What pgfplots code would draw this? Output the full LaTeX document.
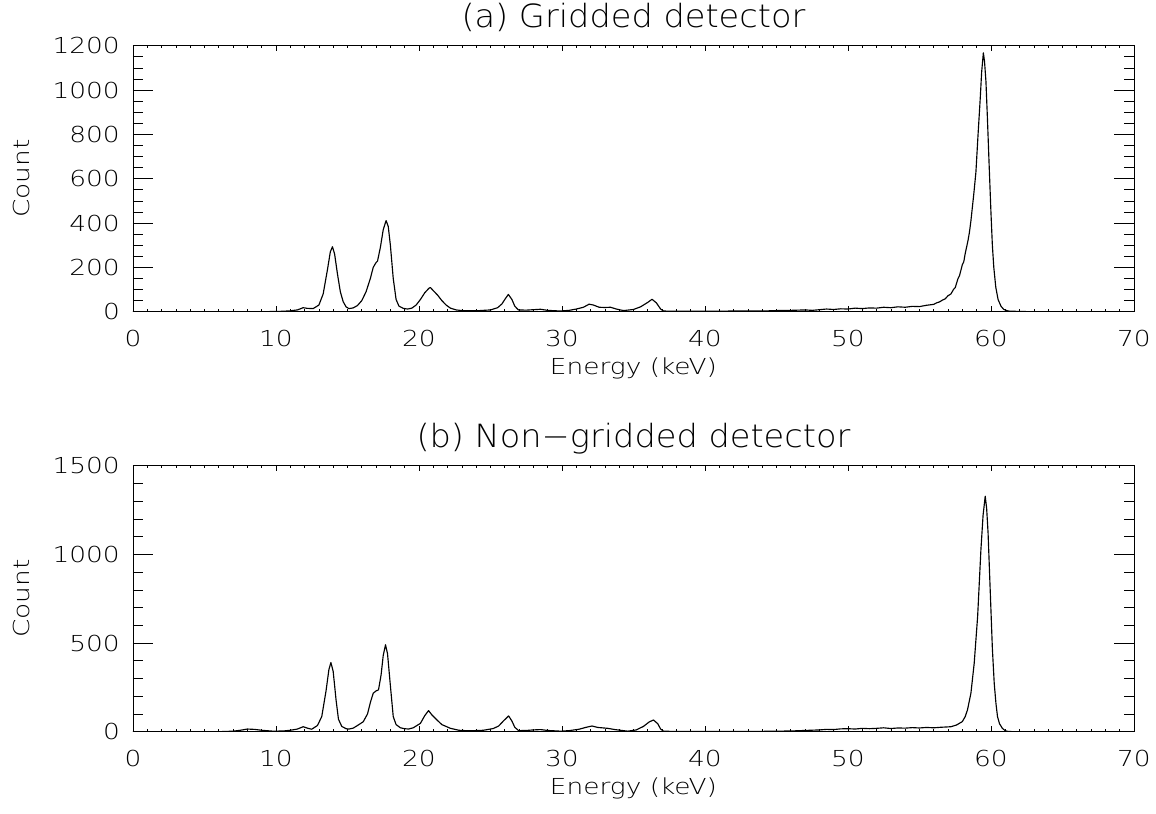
\documentclass[border=0pt]{standalone}
\usepackage{fontspec}
\setmainfont{DejaVu Sans ExtraLight}[FakeStretch=1.2]
\newfontfamily\titlefont{DejaVu Sans ExtraLight}[FakeStretch=1.05]
\usepackage{pgfplots}
\pgfplotsset{compat=1.18}

\newcommand\lblfont{\fontsize{22bp}{26bp}\selectfont}

\pgfplotsset{
  idl/.style={
    scale only axis, width=1001bp, height=266bp,
    xmin=0, xmax=70, xtick={0,10,...,70}, minor x tick num=9,
    tick align=inside,
    axis line style={line width=0.7pt},
    tick style={line width=0.6pt, black},
    every major x tick/.append style={/pgfplots/major tick length=5.3bp},
    every minor x tick/.append style={/pgfplots/minor tick length=2.7bp},
    every major y tick/.append style={/pgfplots/major tick length=20bp},
    every minor y tick/.append style={/pgfplots/minor tick length=10bp},
    /pgf/number format/assume math mode=true,
    /pgf/number format/1000 sep={},
    scaled ticks=false,
    ticklabel style={font=\lblfont},
    xticklabel style={anchor=base, yshift=-35bp},
    yticklabel style={anchor=east, inner sep=0pt, xshift=-13bp},
    xlabel={Energy (keV)}, ylabel={Count},
    label style={font=\lblfont},
    xlabel style={at={(axis description cs:0.5,0)}, anchor=base, yshift=-62.6bp},
    ylabel style={at={(axis description cs:0,0.5)}, anchor=center, rotate=0, yshift=111bp},
    title style={font=\titlefont\fontsize{32bp}{36bp}\selectfont, at={(axis description cs:0.5,1)}, anchor=base, yshift=12.5bp},
  },
  spec/.style={black, line width=1.15pt, line join=round},
}

\begin{document}
\begin{tikzpicture}
\useasboundingbox (-133bp,-82.3bp) rectangle (1023bp,731.7bp);

% (a) gridded
\begin{axis}[idl, at={(0,420bp)}, anchor=south west,
  ymin=0, ymax=1200, ytick={0,200,...,1200}, minor y tick num=3,
  title={(a) Gridded detector}]
\addplot[spec] coordinates {
 (0,0) (5,0) (9,0) (10,1) (10.5,2) (11,4) (11.5,8) (11.9,18) (12.2,15) (12.6,14)
 (13.0,30) (13.3,80) (13.6,190) (13.8,270) (13.95,293) (14.1,260) (14.3,170) (14.5,90)
 (14.7,45) (14.9,22) (15.1,14) (15.4,17) (15.7,28) (16.0,50) (16.3,90) (16.6,150)
 (16.8,200) (17.0,222) (17.1,228) (17.3,290) (17.5,370) (17.7,411) (17.85,385) (18.0,300)
 (18.2,150) (18.4,55) (18.6,25) (18.9,15) (19.2,12) (19.5,16) (19.8,30) (20.1,55)
 (20.4,85) (20.7,106) (20.8,109) (21.0,95) (21.3,75) (21.6,50) (21.9,30) (22.2,16)
 (22.6,8) (23,5) (24,4) (25,8) (25.5,18) (25.8,35) (26.0,55) (26.25,78) (26.5,55)
 (26.7,25) (26.95,8) (27.5,7) (28.0,9) (28.5,11) (29,6) (29.9,3) (30.5,6) (31.0,12)
 (31.5,20) (31.9,34) (32.2,30) (32.6,20) (33.0,19) (33.4,20) (33.8,12) (34.3,5)
 (35.0,10) (35.5,22) (36.0,42) (36.3,56) (36.6,40) (36.9,12) (37.1,3) (38,2) (40,2)
 (42,3) (44,3) (45,5) (46,6) (47,8) (47.5,6) (48,9) (48.5,12) (49,10) (49.5,13)
 (50,12) (50.5,16) (51,14) (51.5,17) (52,16) (52.5,20) (53,18) (53.5,22) (54,20)
 (54.5,24) (55,23) (55.5,29) (56,33) (56.2,40) (56.4,44) (56.6,52) (56.8,58) (57.0,72)
 (57.2,80) (57.4,102) (57.5,108) (57.7,150) (57.8,162) (58.0,212) (58.1,225) (58.2,262)
 (58.4,322) (58.5,360) (58.6,410) (58.8,530) (58.95,630) (59.1,800) (59.25,960)
 (59.35,1080) (59.47,1168) (59.55,1130) (59.65,1040) (59.75,880) (59.87,670) (60.0,450)
 (60.1,300) (60.2,200) (60.34,110) (60.5,55) (60.7,25) (60.9,10) (61.2,3) (62,1) (63,0) (70,0)
};
\end{axis}

% (b) non-gridded
\begin{axis}[idl, at={(0,0)}, anchor=south west,
  ymin=0, ymax=1500, ytick={0,500,1000,1500}, minor y tick num=4,
  title={(b) Non−gridded detector}]
\addplot[spec] coordinates {
 (0,0) (6,0) (7,3) (7.5,8) (8.0,15) (8.5,13) (9,8) (9.8,3) (10.5,4) (11,8) (11.5,15)
 (11.9,28) (12.2,20) (12.5,14) (12.9,35) (13.2,85) (13.5,230) (13.7,350) (13.84,390)
 (14.0,340) (14.2,180) (14.37,70) (14.6,30) (14.9,17) (15.1,15) (15.4,20) (15.7,35)
 (16.1,56) (16.4,100) (16.6,165) (16.8,217) (17.0,230) (17.17,236) (17.35,320) (17.5,430)
 (17.66,490) (17.8,440) (18.0,260) (18.2,85) (18.4,40) (18.7,22) (19.0,17) (19.27,15)
 (19.6,22) (20.1,47) (20.4,90) (20.67,119) (20.9,95) (21.26,66) (21.6,40) (22.2,19)
 (22.8,8) (23.5,5) (24.5,8) (25.2,18) (25.57,32) (25.9,60) (26.27,89) (26.5,60)
 (26.7,25) (26.97,6) (27.5,7) (28.0,10) (28.5,12) (29.0,7) (29.9,3) (30.5,6) (31.2,14)
 (31.7,25) (32.1,32) (32.5,24) (33.2,19) (33.7,12) (34.6,3) (35.2,10) (35.7,30)
 (36.1,55) (36.4,66) (36.7,45) (36.9,15) (37.1,3) (38,1) (40,1) (42,2) (44,2) (46,4)
 (47,7) (48,10) (48.5,13) (49,12) (49.5,16) (50,17) (50.5,15) (51,19) (51.5,17) (52,19)
 (52.5,22) (53,18) (53.5,21) (54,20) (54.5,23) (55,21) (55.5,24) (56,22) (56.5,25)
 (57.2,28) (57.6,38) (58.0,57) (58.2,85) (58.36,123) (58.6,217) (58.83,386) (59.07,650)
 (59.3,1027) (59.45,1220) (59.6,1328) (59.7,1260) (59.8,1121) (60.0,688) (60.1,470)
 (60.23,273) (60.35,160) (60.46,85) (60.6,45) (60.8,19) (61.0,6) (61.2,1) (62,0) (70,0)
};
\end{axis}
\end{tikzpicture}
\end{document}
